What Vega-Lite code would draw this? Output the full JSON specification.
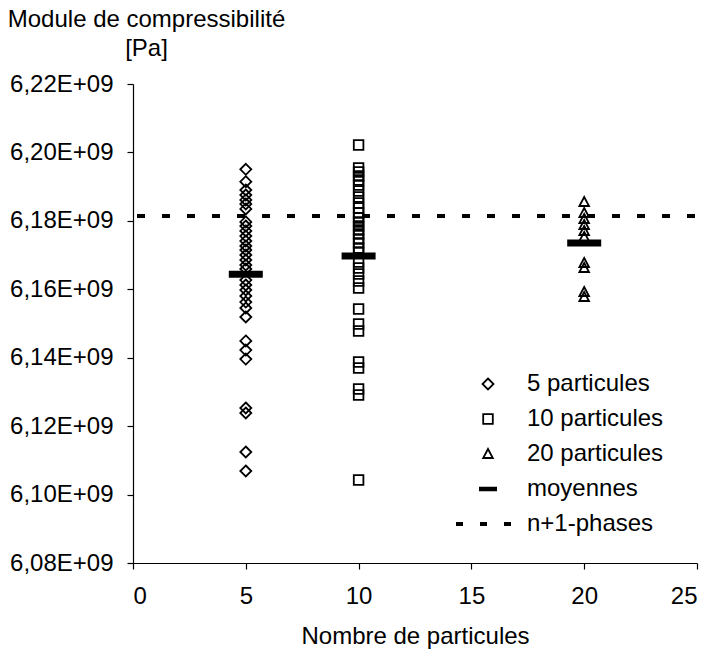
{
  "$schema": "https://vega.github.io/schema/vega-lite/v6.json",
  "width": 564,
  "height": 479,
  "autosize": {"type": "none"},
  "padding": {"left": 133, "top": 84, "right": 13, "bottom": 97},
  "background": "white",
  "config": {
    "view": {"stroke": null},
    "font": "Liberation Sans",
    "axis": {
      "domainColor": "black",
      "domainWidth": 1.2,
      "tickColor": "black",
      "tickWidth": 1.2,
      "tickSize": 6,
      "labelColor": "black",
      "titleColor": "black",
      "labelFont": "Liberation Sans",
      "titleFont": "Liberation Sans",
      "labelFontSize": 24,
      "titleFontSize": 24,
      "titleFontWeight": "normal",
      "grid": false
    },
    "legend": {
      "labelFont": "Liberation Sans",
      "labelFontSize": 24,
      "labelColor": "black"
    }
  },
  "datasets": {
    "points": [
      {"serie": "5 particules", "n": 5, "module": 6.19507e9},
      {"serie": "5 particules", "n": 5, "module": 6.19144e9},
      {"serie": "5 particules", "n": 5, "module": 6.18902e9},
      {"serie": "5 particules", "n": 5, "module": 6.18756e9},
      {"serie": "5 particules", "n": 5, "module": 6.18610e9},
      {"serie": "5 particules", "n": 5, "module": 6.18493e9},
      {"serie": "5 particules", "n": 5, "module": 6.18347e9},
      {"serie": "5 particules", "n": 5, "module": 6.17967e9},
      {"serie": "5 particules", "n": 5, "module": 6.17850e9},
      {"serie": "5 particules", "n": 5, "module": 6.17704e9},
      {"serie": "5 particules", "n": 5, "module": 6.17557e9},
      {"serie": "5 particules", "n": 5, "module": 6.17411e9},
      {"serie": "5 particules", "n": 5, "module": 6.17265e9},
      {"serie": "5 particules", "n": 5, "module": 6.17148e9},
      {"serie": "5 particules", "n": 5, "module": 6.17002e9},
      {"serie": "5 particules", "n": 5, "module": 6.16856e9},
      {"serie": "5 particules", "n": 5, "module": 6.16710e9},
      {"serie": "5 particules", "n": 5, "module": 6.16593e9},
      {"serie": "5 particules", "n": 5, "module": 6.16271e9},
      {"serie": "5 particules", "n": 5, "module": 6.16125e9},
      {"serie": "5 particules", "n": 5, "module": 6.15979e9},
      {"serie": "5 particules", "n": 5, "module": 6.15804e9},
      {"serie": "5 particules", "n": 5, "module": 6.15628e9},
      {"serie": "5 particules", "n": 5, "module": 6.15453e9},
      {"serie": "5 particules", "n": 5, "module": 6.15190e9},
      {"serie": "5 particules", "n": 5, "module": 6.14489e9},
      {"serie": "5 particules", "n": 5, "module": 6.14225e9},
      {"serie": "5 particules", "n": 5, "module": 6.13962e9},
      {"serie": "5 particules", "n": 5, "module": 6.12530e9},
      {"serie": "5 particules", "n": 5, "module": 6.12384e9},
      {"serie": "5 particules", "n": 5, "module": 6.11244e9},
      {"serie": "5 particules", "n": 5, "module": 6.10689e9},
      {"serie": "10 particules", "n": 10, "module": 6.20217e9},
      {"serie": "10 particules", "n": 10, "module": 6.19545e9},
      {"serie": "10 particules", "n": 10, "module": 6.19428e9},
      {"serie": "10 particules", "n": 10, "module": 6.19311e9},
      {"serie": "10 particules", "n": 10, "module": 6.19194e9},
      {"serie": "10 particules", "n": 10, "module": 6.19048e9},
      {"serie": "10 particules", "n": 10, "module": 6.18873e9},
      {"serie": "10 particules", "n": 10, "module": 6.18697e9},
      {"serie": "10 particules", "n": 10, "module": 6.18522e9},
      {"serie": "10 particules", "n": 10, "module": 6.18376e9},
      {"serie": "10 particules", "n": 10, "module": 6.18230e9},
      {"serie": "10 particules", "n": 10, "module": 6.18084e9},
      {"serie": "10 particules", "n": 10, "module": 6.17967e9},
      {"serie": "10 particules", "n": 10, "module": 6.17850e9},
      {"serie": "10 particules", "n": 10, "module": 6.17733e9},
      {"serie": "10 particules", "n": 10, "module": 6.17616e9},
      {"serie": "10 particules", "n": 10, "module": 6.17470e9},
      {"serie": "10 particules", "n": 10, "module": 6.17353e9},
      {"serie": "10 particules", "n": 10, "module": 6.17207e9},
      {"serie": "10 particules", "n": 10, "module": 6.17090e9},
      {"serie": "10 particules", "n": 10, "module": 6.16797e9},
      {"serie": "10 particules", "n": 10, "module": 6.16622e9},
      {"serie": "10 particules", "n": 10, "module": 6.16447e9},
      {"serie": "10 particules", "n": 10, "module": 6.16242e9},
      {"serie": "10 particules", "n": 10, "module": 6.16038e9},
      {"serie": "10 particules", "n": 10, "module": 6.15424e9},
      {"serie": "10 particules", "n": 10, "module": 6.14985e9},
      {"serie": "10 particules", "n": 10, "module": 6.14781e9},
      {"serie": "10 particules", "n": 10, "module": 6.13875e9},
      {"serie": "10 particules", "n": 10, "module": 6.13699e9},
      {"serie": "10 particules", "n": 10, "module": 6.13086e9},
      {"serie": "10 particules", "n": 10, "module": 6.12910e9},
      {"serie": "10 particules", "n": 10, "module": 6.10426e9},
      {"serie": "20 particules", "n": 20, "module": 6.18551e9},
      {"serie": "20 particules", "n": 20, "module": 6.18230e9},
      {"serie": "20 particules", "n": 20, "module": 6.18054e9},
      {"serie": "20 particules", "n": 20, "module": 6.17879e9},
      {"serie": "20 particules", "n": 20, "module": 6.17704e9},
      {"serie": "20 particules", "n": 20, "module": 6.17528e9},
      {"serie": "20 particules", "n": 20, "module": 6.16768e9},
      {"serie": "20 particules", "n": 20, "module": 6.16622e9},
      {"serie": "20 particules", "n": 20, "module": 6.15921e9},
      {"serie": "20 particules", "n": 20, "module": 6.15775e9}
    ],
    "moyennes": [
      {"n": 5, "module": 6.1644e9},
      {"n": 10, "module": 6.1697e9},
      {"n": 20, "module": 6.1735e9}
    ],
    "reference": [
      {"serie": "n+1-phases", "module": 6.1814e9}
    ]
  },
  "layer": [
    {
      "data": {"name": "reference"},
      "mark": {"type": "rule", "color": "black", "strokeWidth": 4, "strokeDash": [8, 17], "strokeDashOffset": -2},
      "encoding": {
        "y": {"field": "module", "type": "quantitative"}
      }
    },
    {
      "data": {"name": "points"},
      "mark": {"type": "point", "filled": false, "color": "black", "strokeWidth": 1.8, "size": 400, "opacity": 1},
      "encoding": {
        "x": {
          "field": "n",
          "type": "quantitative",
          "scale": {"domain": [0, 25], "nice": false, "zero": false},
          "axis": {
            "values": [0, 5, 10, 15, 20, 25],
            "title": "Nombre de particules",
            "labelPadding": 15,
            "titleBaseline": "alphabetic",
            "titleY": 80
          }
        },
        "y": {
          "field": "module",
          "type": "quantitative",
          "scale": {"domain": [6.08e9, 6.22e9], "nice": false, "zero": false},
          "axis": {
            "values": [6.08e9, 6.10e9, 6.12e9, 6.14e9, 6.16e9, 6.18e9, 6.20e9, 6.22e9],
            "labelExpr": "replace(format(datum.value / 1e9, '.2f'), '.', ',') + 'E+09'",
            "labelPadding": 14,
            "title": ["Module de compressibilité", "[Pa]"],
            "titleAngle": 0,
            "titleAlign": "center",
            "titleBaseline": "top",
            "titleLineHeight": 29,
            "titleX": 13,
            "titleY": -77
          }
        },
        "shape": {
          "field": "serie",
          "type": "nominal",
          "scale": {
            "domain": ["5 particules", "10 particules", "20 particules", "moyennes", "n+1-phases"],
            "range": [
              "M0,-0.55L0.55,0L0,0.55L-0.55,0Z",
              "M-0.48,-0.48H0.48V0.48H-0.48Z",
              "M0,-0.5L0.48,0.4H-0.48Z",
              "M-0.81,-0.14H0.81V0.14H-0.81Z M-0.81,0H0.81",
              "M-3.11,-0.11H-2.59V0.11H-3.11Z M-3.11,0H-2.59 M-0.71,-0.11H-0.19V0.11H-0.71Z M-0.71,0H-0.19 M1.69,-0.11H2.21V0.11H1.69Z M1.69,0H2.21"
            ]
          },
          "legend": {
            "title": null,
            "orient": "none",
            "legendX": 343,
            "legendY": 288,
            "symbolSize": 400,
            "symbolStrokeWidth": 1.8,
            "symbolStrokeColor": "black",
            "labelOffset": 27,
            "rowPadding": 11
          }
        }
      }
    },
    {
      "data": {"name": "moyennes"},
      "mark": {"type": "tick", "orient": "horizontal", "color": "black", "size": 34, "thickness": 7, "opacity": 1},
      "encoding": {
        "x": {"field": "n", "type": "quantitative"},
        "y": {"field": "module", "type": "quantitative"}
      }
    }
  ]
}
